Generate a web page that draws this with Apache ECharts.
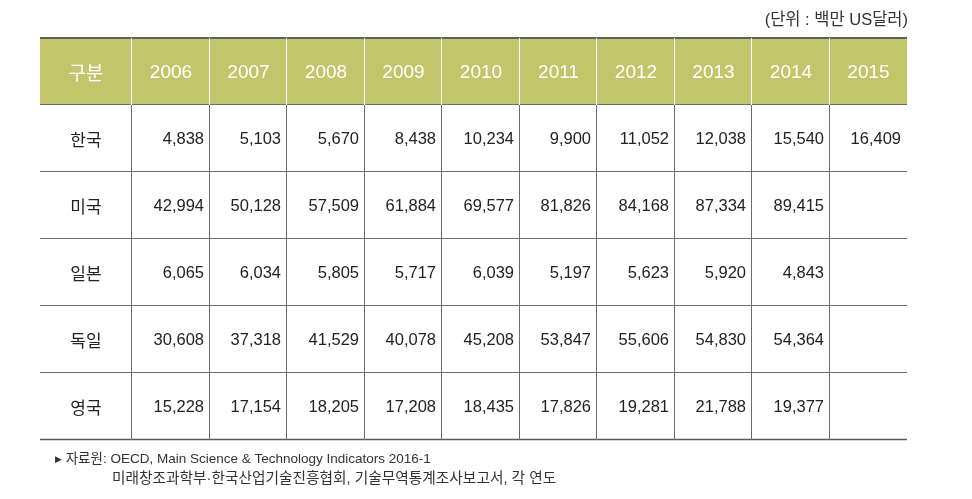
<!DOCTYPE html>
<html>
<head>
<meta charset="utf-8">
<script src="https://cdn.jsdelivr.net/npm/echarts@6/dist/echarts.min.js"></script>
<style>html,body{margin:0;padding:0;background:#fff;}#c{width:972px;height:499px;}</style>
</head>
<body>
<div id="c"></div>
<script>
var headerLabel = '구분';
var years = ['2006','2007','2008','2009','2010','2011','2012','2013','2014','2015'];
var countries = ['한국','미국','일본','독일','영국'];
var korea   = [4838, 5103, 5670, 8438, 10234, 9900, 11052, 12038, 15540, 16409];
var usa     = [42994, 50128, 57509, 61884, 69577, 81826, 84168, 87334, 89415, null];
var japan   = [6065, 6034, 5805, 5717, 6039, 5197, 5623, 5920, 4843, null];
var germany = [30608, 37318, 41529, 40078, 45208, 53847, 55606, 54830, 54364, null];
var uk      = [15228, 17154, 18205, 17208, 18435, 17826, 19281, 21788, 19377, null];
var seriesValues = [korea, usa, japan, germany, uk];
var unitText = '(단위 : 백만 US달러)';
var sourceLine1 = '자료원: OECD, Main Science & Technology Indicators 2016-1';
var sourceLine2 = '미래창조과학부·한국산업기술진흥협회, 기술무역통계조사보고서, 각 연도';

var rows = [headerLabel].concat(countries);
var HEAD_FILL = '#c3c56b';
var LINE = '#6b6b6b';
var NUM_FONT = '16.5px "Liberation Sans", sans-serif';
var HEAD_FONT = '19px "Liberation Sans", sans-serif';
var KO_FONT = '17px "Noto Sans CJK KR", sans-serif';
var MIX_FAMILY = '"Liberation Sans", "Noto Sans CJK KR", sans-serif';

var labelData = rows.map(function (r, i) { return [0, i, r]; });
var valueData = [];
years.forEach(function (y, xi) { valueData.push([xi, 0, y]); });
seriesValues.forEach(function (arr, ri) {
  arr.forEach(function (v, xi) {
    valueData.push([xi, ri + 1, v == null ? '' : v.toLocaleString('en-US')]);
  });
});

function px(v) { return Math.round(v) + 0.5; }

function makeRender(isLabelCol) {
  return function (params, api) {
    var xi = api.value(0), yi = api.value(1);
    var txt = isLabelCol ? labelData[params.dataIndex][2] : valueData[params.dataIndex][2];
    var c = api.coord([xi, yi]);
    var s = api.size([1, 1]);
    var x0 = Math.round(c[0] - s[0] / 2), x1 = Math.round(c[0] + s[0] / 2);
    var y0 = Math.round(c[1] - s[1] / 2), y1 = Math.round(c[1] + s[1] / 2);
    var isHead = yi === 0;
    var lastRow = yi === rows.length - 1;
    var ch = [];
    if (isHead) {
      ch.push({ type: 'rect', shape: { x: x0, y: y0, width: x1 - x0, height: y1 - y0 }, style: { fill: HEAD_FILL } });
    }
    if (!isLabelCol) {
      ch.push({ type: 'line', shape: { x1: px(x0) - 1, y1: y0, x2: px(x0) - 1, y2: y1 },
        style: { stroke: isHead ? '#ffffff' : LINE, lineWidth: 1 } });
    }
    ch.push({ type: 'line', shape: { x1: x0, y1: px(y1) - 1, x2: x1, y2: px(y1) - 1 },
      style: { stroke: lastRow ? '#5a5a5a' : LINE, lineWidth: lastRow ? 1.5 : 1 } });
    if (isHead) {
      ch.push({ type: 'line', shape: { x1: x0, y1: y0, x2: x1, y2: y0 }, style: { stroke: '#5f5f5f', lineWidth: 2 } });
    }
    var tx, align;
    if (isLabelCol || isHead) { tx = (x0 + x1) / 2; align = 'center'; }
    else { tx = x1 - 6; align = 'right'; }
    var font = isLabelCol ? (isHead ? '19px "Noto Sans CJK KR", sans-serif' : KO_FONT) : (isHead ? HEAD_FONT : NUM_FONT);
    ch.push({ type: 'text', style: { text: txt, x: tx, y: (y0 + y1) / 2 + 1, align: align, verticalAlign: 'middle',
      textAlign: align, textVerticalAlign: 'middle', fill: isHead ? '#ffffff' : '#222222', font: font } });
    return { type: 'group', children: ch };
  };
}

var chart = echarts.init(document.getElementById('c'), null, { renderer: 'canvas' });
chart.setOption({
  animation: false,
  backgroundColor: '#ffffff',
  title: [
    { text: unitText, right: 59, top: 7, textStyle: { fontSize: 16.5, fontWeight: 'normal', color: '#333', fontFamily: MIX_FAMILY } },
    { text: '{t|▶} ' + sourceLine1, left: 50, top: 448, textStyle: { fontSize: 13.5, fontWeight: 'normal', color: '#333', fontFamily: MIX_FAMILY,
        rich: { t: { fontSize: 9, color: '#333', fontFamily: 'DejaVu Sans', verticalAlign: 'middle' } } } },
    { text: sourceLine2, left: 107, top: 467, textStyle: { fontSize: 14.7, fontWeight: 'normal', color: '#333', fontFamily: MIX_FAMILY } }
  ],
  grid: [
    { left: 40, width: 92, top: 38, bottom: 59 },
    { left: 132, right: 65, top: 38, bottom: 59 }
  ],
  xAxis: [
    { gridIndex: 0, type: 'category', data: [headerLabel], show: false },
    { gridIndex: 1, type: 'category', data: years, show: false }
  ],
  yAxis: [
    { gridIndex: 0, type: 'category', data: rows, inverse: true, show: false },
    { gridIndex: 1, type: 'category', data: rows, inverse: true, show: false }
  ],
  series: [
    { type: 'custom', xAxisIndex: 0, yAxisIndex: 0, data: labelData, renderItem: makeRender(true), encode: { x: 0, y: 1 } },
    { type: 'custom', xAxisIndex: 1, yAxisIndex: 1, data: valueData, renderItem: makeRender(false), encode: { x: 0, y: 1 } }
  ]
});
</script>
</body>
</html>
